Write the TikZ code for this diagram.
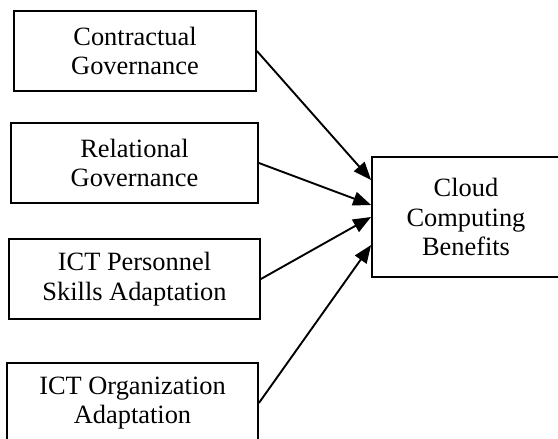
\documentclass[tikz,border=0pt]{standalone}
\usepackage{fontspec}
\setmainfont{Liberation Serif}
\usetikzlibrary{positioning, arrows.meta}

\begin{document}
\begin{tikzpicture}[x=1pt, y=-1pt,
  driver/.style={
    rectangle,
    minimum height=80pt,
    line width=1.8pt, align=center,
    draw=black,
    inner sep=0pt,
    font=\fontsize{26.4}{29.5}\selectfont
  },
  benefit/.style={driver, minimum height=120pt, minimum width=188pt},
  link/.style={line width=1.9pt, -{Triangle[length=18pt,width=14pt]}}
]
\useasboundingbox (0,0) rectangle (558,439);

\node [driver, minimum width=242pt] (contract) at (135,51) {Contractual\\ Governance};
\node [driver, minimum width=247pt] (relation) at (134.5,163) {Relational\\ Governance};
\node [driver, minimum width=251pt] (skills) at (134.5,279) {ICT Personnel\\ Skills Adaptation};
\node [driver, minimum width=251pt] (orgadapt) at (132.5,403) {ICT Organization\\ Adaptation};
\node [benefit] (benefits) at (466,217) {Cloud\\ Computing\\ Benefits};

\draw [link] (contract.east) -- ([yshift=37pt]benefits.west);
\draw [link] (relation.east) -- ([yshift=12pt]benefits.west);
\draw [link] (skills.east) -- (benefits.west);
\draw [link] (orgadapt.east) -- ([yshift=-28pt]benefits.west);
\end{tikzpicture}
\end{document}
